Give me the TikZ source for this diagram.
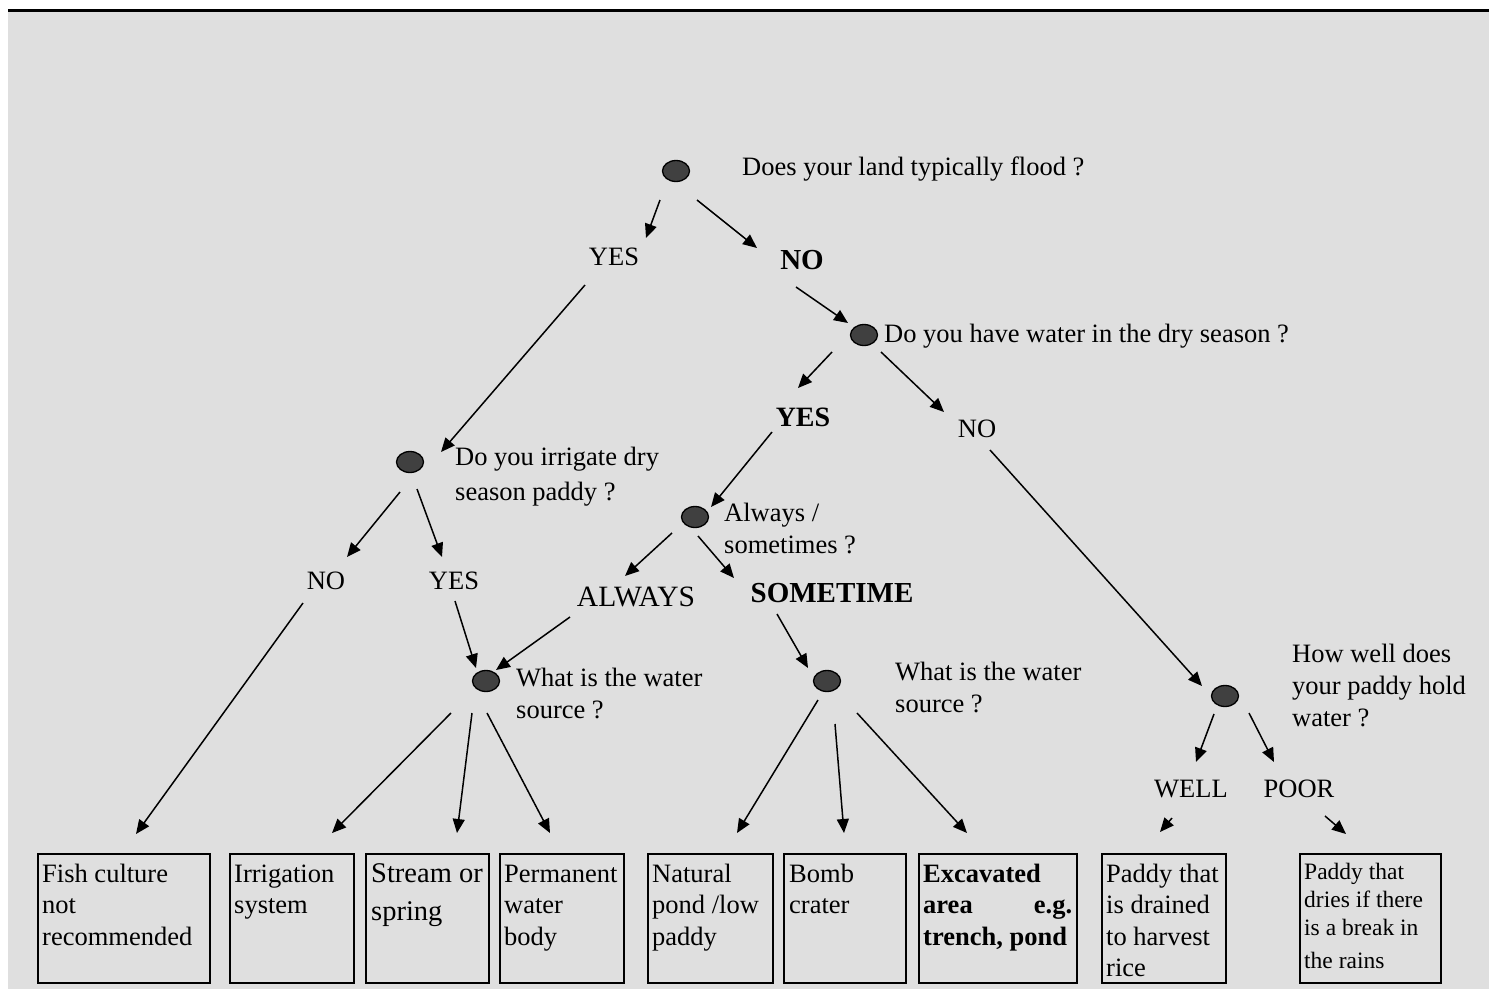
\documentclass[tikz,border=0pt]{standalone}
\usepackage{fontspec}
\setmainfont{Liberation Serif}
\usetikzlibrary{arrows.meta,shapes.geometric}
\definecolor{bggray}{HTML}{DFDFDF}
\definecolor{dotgray}{HTML}{404040}
\newcommand\mlines[1]{\begin{tabular}[t]{@{}l@{}}#1\end{tabular}}
\tikzset{
  dec/.style={ellipse, draw=black, line width=1.3pt, fill=dotgray, minimum width=27pt, minimum height=21pt, inner sep=0pt},
  quest/.style={inner sep=0pt, anchor=base west, font=\fontsize{26.5}{32}\selectfont},
  ans/.style={inner sep=0pt, font=\fontsize{26.5}{32}\selectfont},
  ansbold/.style={inner sep=0pt, font=\fontsize{29}{34}\selectfont\bfseries},
  outbox/.style={draw=black, line width=2pt, anchor=north west, inner sep=0pt, minimum height=129pt},
  boxtext/.style={inner sep=0pt, anchor=base west, font=\fontsize{26.5}{31.5}\selectfont},
  arr/.style={-{Triangle[length=14pt,width=12pt]}, line width=1.5pt},
}
\begin{document}
\begin{tikzpicture}[x=1pt,y=-1pt]
\useasboundingbox (0,0) rectangle (1489,989);
\fill[white] (0,0) rectangle (1489,989);
\fill[bggray] (8,11) rectangle (1489,989);
\draw[line width=3pt] (8,10.5) -- (1489,10.5);

% decision dots
\node[dec] (c1) at (676,171) {};
\node[dec] (c2) at (864,335) {};
\node[dec] (c3) at (410,462) {};
\node[dec] (c4) at (695,517) {};
\node[dec] (c5) at (486,681) {};
\node[dec] (c6) at (827,681) {};
\node[dec] (c7) at (1225,696) {};

% questions
\node[quest] (q1) at (742,175) {Does your land typically flood ?};
\node[quest] (q2) at (884,342) {Do you have water in the dry season ?};
\node[quest] (q3) at (455,465) {\fontsize{26.5}{35}\selectfont\mlines{Do you irrigate dry\\season paddy ?}};
\node[quest] (q4) at (724,521) {\mlines{Always /\\sometimes ?}};
\node[quest] (q5) at (516,686) {\mlines{What is the water\\source ?}};
\node[quest] (q6) at (895,680) {\mlines{What is the water\\source ?}};
\node[quest] (q7) at (1292,662) {\mlines{How well does\\your paddy hold\\water ?}};

% answers
\node[ans] (yes1) at (614,257) {YES};
\node[ansbold] (no1) at (802,260) {NO};
\node[ansbold, font=\fontsize{28}{33}\selectfont\bfseries] (yes2) at (803,417) {YES};
\node[ans] (no2) at (977,429) {NO};
\node[ans] (no3) at (326,581) {NO};
\node[ans] (yes3) at (454,581) {YES};
\node[ans, font=\fontsize{29.5}{35}\selectfont] (always) at (636,597) {ALWAYS};
\node[ansbold] (sometime) at (832,593) {SOMETIME};
\node[ans] (well) at (1191,789) {WELL};
\node[ans] (poor) at (1299,789) {POOR};

% outcome boxes
\node[outbox, minimum width=172pt] (b1) at (37,853) {};
\node[outbox, minimum width=124pt] (b2) at (229,853) {};
\node[outbox, minimum width=123pt] (b3) at (365,853) {};
\node[outbox, minimum width=124pt] (b4) at (499,853) {};
\node[outbox, minimum width=125pt] (b5) at (647,853) {};
\node[outbox, minimum width=122pt] (b6) at (783,853) {};
\node[outbox, minimum width=158pt] (b7) at (918,853) {};
\node[outbox, minimum width=124pt] (b8) at (1101,853) {};
\node[outbox, minimum width=141pt] (b9) at (1299,853) {};

\node[boxtext] (t1) at ([shift={(5,29)}]b1.north west) {\mlines{Fish culture\\not\\recommended}};
\node[boxtext] (t2) at ([shift={(5,29)}]b2.north west) {\mlines{Irrigation\\system}};
\node[boxtext, font=\fontsize{28.5}{38}\selectfont] (t3) at ([shift={(6,29)}]b3.north west) {\mlines{Stream or\\spring}};
\node[boxtext] (t4) at ([shift={(5,29)}]b4.north west) {\mlines{Permanent\\water\\body}};
\node[boxtext] (t5) at ([shift={(5,29)}]b5.north west) {\mlines{Natural\\pond /low\\paddy}};
\node[boxtext] (t6) at ([shift={(6,29)}]b6.north west) {\mlines{Bomb\\crater}};
\node[boxtext, font=\fontsize{26.5}{31.5}\selectfont\bfseries] (t7) at ([shift={(5,29)}]b7.north west) {\mlines{Excavated\\\makebox[149pt][s]{area\hfill e.g.}\\trench, pond}};
\node[boxtext] (t8) at ([shift={(5,29)}]b8.north west) {\mlines{Paddy that\\is drained\\to harvest\\rice}};
\node[boxtext, font=\fontsize{23.5}{28}\selectfont] (t9) at ([shift={(5,26)}]b9.north west) {\mlines{Paddy that\\dries if there\\is a break in\\[5pt]the rains}};

% connectors
\draw[arr] ([shift={(-16,29)}]c1.center) -- ([shift={(32,-19)}]yes1.center);
\draw[arr] ([shift={(21,29)}]c1.center) -- ([shift={(-45,-12)}]no1.center);
\draw[arr] ([shift={(-29,28)}]yes1.center) -- ([shift={(31,-10)}]c3.center);
\draw[arr] ([shift={(-6,27)}]no1.center) -- ([shift={(-16,-12)}]c2.center);
\draw[arr] ([shift={(-32,17)}]c2.center) -- ([shift={(-5,-29)}]yes2.center);
\draw[arr] ([shift={(17,17)}]c2.center) -- ([shift={(-33,-17)}]no2.center);
\draw[arr] ([shift={(-31,15)}]yes2.center) -- ([shift={(16,-10)}]c4.center);
\draw[arr] ([shift={(13,21)}]no2.center) -- ([shift={(-23,-10)}]c7.center);
\draw[arr] ([shift={(-10,30)}]c3.center) -- ([shift={(21,-24)}]no3.center);
\draw[arr] ([shift={(7,27)}]c3.center) -- ([shift={(-12,-24)}]yes3.center);
\draw[arr] ([shift={(-23,16)}]c4.center) -- ([shift={(-11,-21)}]always.center);
\draw[arr] ([shift={(3,19)}]c4.center) -- ([shift={(-98,-15)}]sometime.center);
\draw[arr] ([shift={(-66,20)}]always.center) -- ([shift={(10,-11)}]c5.center);
\draw[arr] ([shift={(1,20)}]yes3.center) -- ([shift={(-10,-13)}]c5.center);
\draw[arr] ([shift={(-55,21)}]sometime.center) -- ([shift={(-19,-13)}]c6.center);
\draw[arr] ([shift={(-23,22)}]no3.center) -- ([shift={(12,-19)}]b1.north);
\draw[arr] ([shift={(-35,32)}]c5.center) -- ([shift={(40,-20)}]b2.north);
\draw[arr] ([shift={(-14,32)}]c5.center) -- ([shift={(29.5,-20)}]b3.north);
\draw[arr] ([shift={(1,32)}]c5.center) -- ([shift={(-12,-20)}]b4.north);
\draw[arr] ([shift={(-9,19)}]c6.center) -- ([shift={(26.5,-20)}]b5.north);
\draw[arr] ([shift={(8,43)}]c6.center) -- ([shift={(-1,-20)}]b6.north);
\draw[arr] ([shift={(30,32)}]c6.center) -- ([shift={(-31,-20)}]b7.north);
\draw[arr] ([shift={(-11,18)}]c7.center) -- ([shift={(5,-27)}]well.center);
\draw[arr] ([shift={(24,17)}]c7.center) -- ([shift={(-25,-27)}]poor.center);
\draw[arr] ([shift={(-19,29)}]well.center) -- ([shift={(-4,-21)}]b8.north);
\draw[arr] ([shift={(26,27)}]poor.center) -- ([shift={(-24.5,-19)}]b9.north);
\end{tikzpicture}
\end{document}
